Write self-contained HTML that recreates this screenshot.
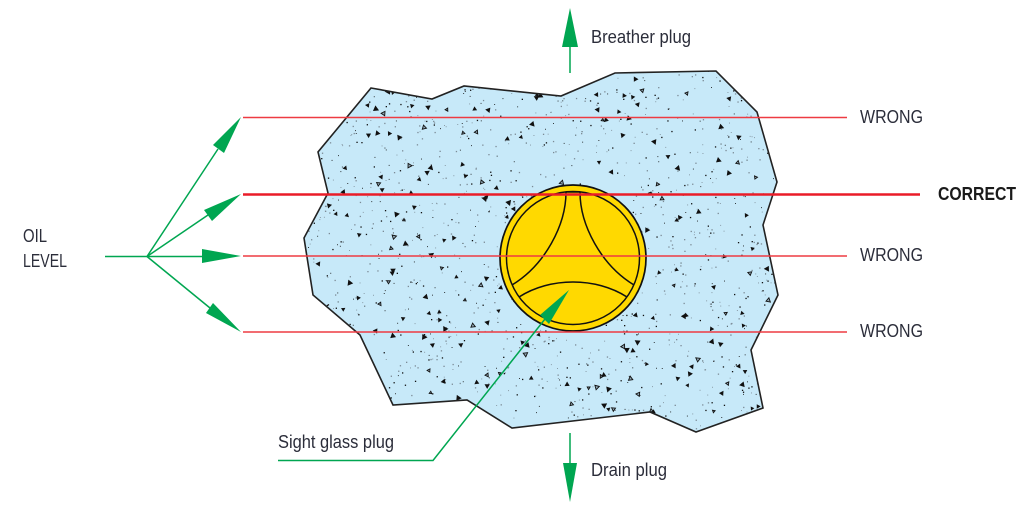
<!DOCTYPE html>
<html>
<head>
<meta charset="utf-8">
<style>
html,body{margin:0;padding:0;background:#fff;width:1035px;height:509px;overflow:hidden}
svg{display:block}
text{font-family:"Liberation Sans",sans-serif;font-size:18px;fill:#2b2d3a}
</style>
</head>
<body>
<svg id="s" width="1035" height="509" viewBox="0 0 1035 509" xmlns="http://www.w3.org/2000/svg">
<defs>
<clipPath id="c"><polygon points="371,88 432,99 464,86 561,96 615,73 716,71 757,112 777,182 763,225 778,295 751,350 763,408 696,432 650,412 512,428 467,400 393,405 360,335 313,295 304,238 328,193 318,152"/></clipPath>
</defs>
<polygon points="371,88 432,99 464,86 561,96 615,73 716,71 757,112 777,182 763,225 778,295 751,350 763,408 696,432 650,412 512,428 467,400 393,405 360,335 313,295 304,238 328,193 318,152" fill="#c7e9f9"/>
<g id="sp" clip-path="url(#c)"></g>
<polygon points="371,88 432,99 464,86 561,96 615,73 716,71 757,112 777,182 763,225 778,295 751,350 763,408 696,432 650,412 512,428 467,400 393,405 360,335 313,295 304,238 328,193 318,152" fill="none" stroke="#222" stroke-width="1.6"/>

<circle cx="573" cy="258" r="73" fill="#ffd900" stroke="#111" stroke-width="1.7"/>
<circle cx="573" cy="258" r="66.500" fill="none" stroke="#111" stroke-width="1.5"/>
<g fill="none" stroke="#111" stroke-width="1.5">
<path d="M566,192 C566,225 545,265 512,285"/>
<path d="M580,192 C580,225 601,265 634,285"/>
<path d="M566,192 H580"/>
<path d="M519,297 C550,277 596,277 627,297"/>
</g>

<g stroke="#ee3b42" fill="none">
<path d="M243,117.500 H847" stroke-width="1.400"/>
<path d="M243,194.500 H920" stroke="#ea1c28" stroke-width="2.600"/>
<path d="M243,256 H847" stroke-width="1.400"/>
<path d="M243,332 H847" stroke-width="1.400"/>
</g>

<g stroke="#00a651" stroke-width="1.500" fill="none">
<path d="M105,256.500 H147 L218,149"/>
<path d="M147,256.500 L208,215"/>
<path d="M147,256.500 H205"/>
<path d="M147,256.500 L210,308"/>
<path d="M278,460.500 H433 L545,319"/>
<path d="M570,73 V45"/>
<path d="M570,433 V465"/>
</g>
<g fill="#00a651">
<polygon points="241,117 213,145 224,153"/>
<polygon points="241,194 204,210 212,221"/>
<polygon points="241,256 202,249 202,263"/>
<polygon points="241,332 213,303 206,313"/>
<polygon points="569,290 540,315 549,324"/>
<polygon points="570,8 562,47 578,47"/>
<polygon points="570,502 563,463 577,463"/>
</g>

<text x="860" y="123" textLength="63" lengthAdjust="spacingAndGlyphs">WRONG</text>
<text x="860" y="261" textLength="63" lengthAdjust="spacingAndGlyphs">WRONG</text>
<text x="860" y="337" textLength="63" lengthAdjust="spacingAndGlyphs">WRONG</text>
<text x="938" y="200" textLength="78" lengthAdjust="spacingAndGlyphs" style="font-weight:bold;fill:#1a1a1a">CORRECT</text>
<text x="23" y="242" textLength="24" lengthAdjust="spacingAndGlyphs">OIL</text>
<text x="23" y="267" textLength="44" lengthAdjust="spacingAndGlyphs">LEVEL</text>
<text x="278" y="448" textLength="116" lengthAdjust="spacingAndGlyphs">Sight glass plug</text>
<text x="591" y="476" textLength="76" lengthAdjust="spacingAndGlyphs">Drain plug</text>
<text x="591" y="43" textLength="100" lengthAdjust="spacingAndGlyphs">Breather plug</text>
</svg>
<script>
(function(){
var seed=12345;function r(){seed=(seed*16807)%2147483647;return seed/2147483647;}
var g=document.getElementById('sp'),h='';
var i,x,y,a,s,c,p,k;
for(i=0;i<1500;i++){
x=300+r()*480;y=70+r()*365;
s=r()<0.5?0.9:1.3;
c=r()<0.45?'#111':'#7c8b96';
h+='<rect x="'+x.toFixed(1)+'" y="'+y.toFixed(1)+'" width="'+s+'" height="'+s+'" fill="'+c+'"/>';
}
for(i=0;i<270;i++){
x=300+r()*480;y=70+r()*365;
a=r()*6.28;s=1.5+r()*1.2;p=[];
for(k=0;k<3;k++){p.push((x+s*Math.cos(a+k*2.09)).toFixed(1)+','+(y+s*Math.sin(a+k*2.09)).toFixed(1));}
h+='<polygon points="'+p.join(' ')+'" fill="'+(r()<0.75?'#111':'#8fa6b4')+'" stroke="#111" stroke-width="0.9"/>';
}
g.innerHTML=h;
})();
</script>
</body>
</html>
